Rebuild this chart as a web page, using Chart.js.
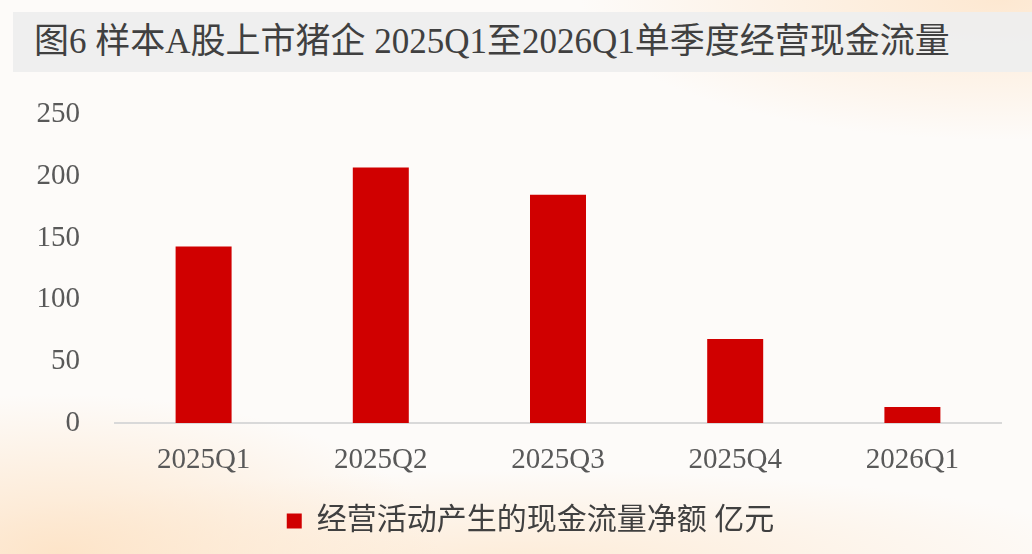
<!DOCTYPE html>
<html>
<head>
<meta charset="utf-8">
<script src="https://cdn.jsdelivr.net/npm/chart.js@4"></script>
<style>
  html, body {
    margin: 0;
    padding: 0;
    width: 1032px;
    height: 554px;
    overflow: hidden;
  }
  body {
    position: relative;
    background:
      radial-gradient(ellipse 380px 160px at 60px 554px, rgba(253, 226, 196, 0.9), rgba(253, 226, 196, 0) 100%),
      radial-gradient(ellipse 600px 90px at 520px 560px, rgba(253, 232, 208, 0.8), rgba(253, 232, 208, 0) 100%),
      radial-gradient(ellipse 420px 140px at 1000px 0px, rgba(253, 230, 205, 0.9), rgba(253, 230, 205, 0) 100%),
      #fdfbf9;
  }
  .title {
    position: absolute;
    left: 13px;
    top: 12px;
    width: 1019px;
    height: 60px;
    background: rgba(238, 238, 238, 0.95);
    font-family: "Liberation Serif", "Noto Sans CJK SC", serif;
    font-size: 35px;
    line-height: 60px;
    color: #404040;
    padding-left: 21px;
    box-sizing: border-box;
    white-space: nowrap;
  }
  #wrap {
    position: absolute;
    left: 0;
    top: 0;
    width: 1032px;
    height: 554px;
  }
</style>
</head>
<body>
<div class="title">图6 样本A股上市猪企 2025Q1至2026Q1单季度经营现金流量</div>
<div id="wrap"><canvas id="chart"></canvas></div>
<script>
// 数据
const categories = ["2025Q1", "2025Q2", "2025Q3", "2025Q4", "2026Q1"];
const cashFlow = [143, 207, 185, 68, 13];
const seriesName = "经营活动产生的现金流量净额 亿元";
const yTicks = [0, 50, 100, 150, 200, 250];

const fontFamily = '"Liberation Serif", "Noto Sans CJK SC", serif';

// legend sits a bit right of the canvas centre in the original
const shiftLegend = {
  id: "shiftLegend",
  afterLayout(chart) {
    const lg = chart.legend;
    if (!lg) return;
    lg.left += 30;
    lg.right += 30;
  },
};

const config = {
  type: "bar",
  data: {
    labels: categories,
    datasets: [
      {
        label: seriesName,
        data: cashFlow,
        backgroundColor: "#d00000",
        borderWidth: 0,
        barPercentage: 0.316,
        categoryPercentage: 1,
      },
    ],
  },
  options: {
    responsive: true,
    maintainAspectRatio: false,
    animation: false,
    layout: {
      padding: { top: 114.5, left: 0, right: 31, bottom: 8 },
    },
    plugins: {
      tooltip: { enabled: false },
      legend: {
        position: "bottom",
        labels: {
          boxWidth: 15,
          boxHeight: 15,
          padding: 10,
          color: "#404040",
          font: { family: fontFamily, size: 30 },
        },
      },
    },
    scales: {
      x: {
        grid: { display: false, drawTicks: false },
        border: { display: true, color: "#d9d9d9", width: 2 },
        ticks: {
          color: "#595959",
          padding: 20,
          font: { family: fontFamily, size: 29 },
        },
        afterFit: (scale) => { scale.height = 73; },
      },
      y: {
        min: 0,
        max: 250,
        afterBuildTicks: (scale) => {
          scale.ticks = yTicks.map((v) => ({ value: v }));
        },
        grid: { display: false, drawTicks: false },
        border: { display: false },
        ticks: {
          color: "#595959",
          padding: 35,
          font: { family: fontFamily, size: 29 },
        },
        afterFit: (scale) => { scale.width = 115; },
      },
    },
  },
  plugins: [shiftLegend],
};

new Chart(document.getElementById("chart"), config);
</script>
</body>
</html>
